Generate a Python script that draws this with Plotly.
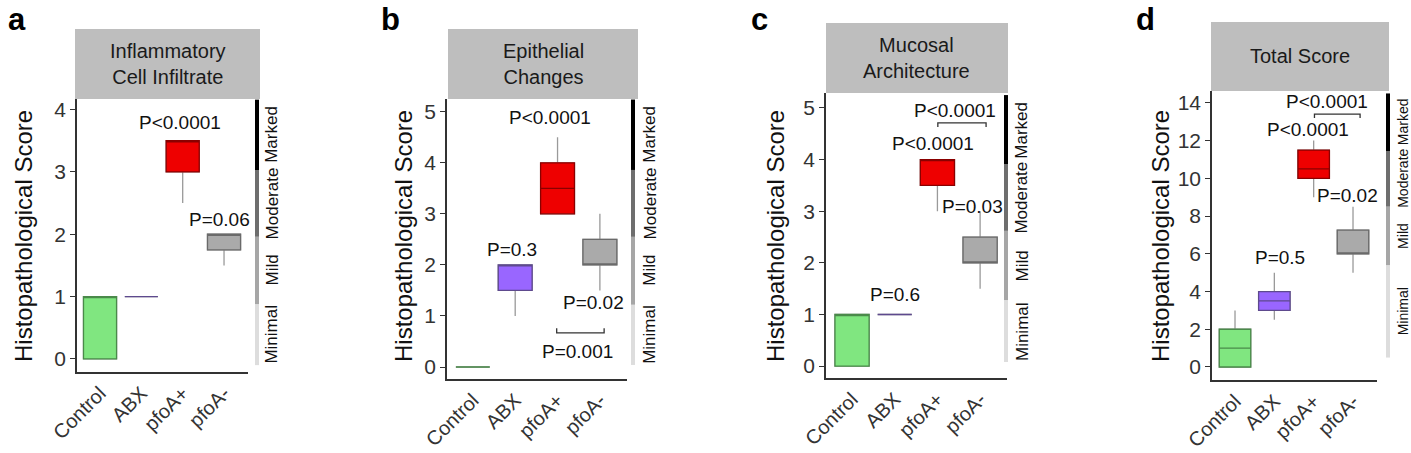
import plotly.graph_objects as go

W, H = 1411, 453

categories = ["Control", "ABX", "pfoA+", "pfoA-"]
panel_letters = ["a", "b", "c", "d"]
panel_titles = ["Inflammatory<br>Cell Infiltrate", "Epithelial<br>Changes",
                "Mucosal<br>Architecture", "Total Score"]
severity_levels = ["Minimal", "Mild", "Moderate", "Marked"]

# Box statistics per panel, order = categories
q1_a = [0, 1, 3.0, 1.75]
med_a = [1, 1, 3.5, 2.0]
q3_a = [1, 1, 3.5, 2.0]
lo_a = [0, 1, 2.5, 1.5]
hi_a = [1, 1, 3.5, 2.0]

q1_b = [0, 1.5, 3.0, 2.0]
med_b = [0, 2.0, 3.5, 2.0]
q3_b = [0, 2.0, 4.0, 2.5]
lo_b = [0, 1.0, 3.0, 1.5]
hi_b = [0, 2.0, 4.5, 3.0]

q1_c = [0, 1, 3.5, 2.0]
med_c = [1, 1, 4.0, 2.0]
q3_c = [1, 1, 4.0, 2.5]
lo_c = [0, 1, 3.0, 1.5]
hi_c = [1, 1, 4.0, 3.0]

q1_d = [0, 3.0, 10.0, 6.0]
med_d = [1, 3.5, 10.5, 6.0]
q3_d = [2, 4.0, 11.5, 7.25]
lo_d = [0, 2.5, 9.0, 5.0]
hi_d = [3, 5.0, 12.0, 8.5]

# severity scale boundaries (data units) per panel
sev_a = [-0.1, 0.88, 1.96, 3.03, 4.16]
sev_b = [0.04, 1.22, 2.55, 3.86, 5.24]
sev_c = [0.08, 1.28, 2.62, 3.91, 5.25]
sev_d = [0.5, 5.4, 8.5, 11.45, 14.5]

# P-value labels: text, x (category index), y
ptext_a = ["P<0.0001", "P=0.06"]
px_a = [1.94, 2.9]
py_a = [3.8, 2.23]

ptext_b = ["P<0.0001", "P=0.3", "P=0.02", "P=0.001"]
px_b = [1.82, 0.92, 2.84, 2.48]
py_b = [4.88, 2.3, 1.27, 0.3]

ptext_c = ["P=0.6", "P<0.0001", "P<0.0001", "P=0.03"]
px_c = [1.0, 1.9, 2.41, 2.81]
py_c = [1.38, 4.32, 4.96, 3.1]

ptext_d = ["P=0.5", "P<0.0001", "P<0.0001", "P=0.02"]
px_d = [1.15, 1.86, 2.34, 2.87]
py_d = [5.8, 12.57, 14.05, 9.1]

# comparison brackets: (x0, x1, y, tip_y)
brackets_a = []
brackets_b = [(1.98, 3.1, 0.67, 0.76)]
brackets_c = [(2.01, 3.14, 4.71, 4.63)]
brackets_d = [(2.02, 3.18, 13.4, 13.2)]

fill_colors = ["#80E680", "#9966FF", "#EE0000", "#AAAAAA"]
edge_colors = ["#4A8A4A", "#5E4A8E", "#8A0000", "#6A6A6A"]
whisker_color = "#9A9A9A"
sev_colors = ["#DDDDDD", "#A6A6A6", "#6E6E6E", "#000000"]

panels = [
    dict(q1=q1_a, med=med_a, q3=q3_a, lo=lo_a, hi=hi_a, sev=sev_a,
         pt=ptext_a, px=px_a, py=py_a, br=brackets_a),
    dict(q1=q1_b, med=med_b, q3=q3_b, lo=lo_b, hi=hi_b, sev=sev_b,
         pt=ptext_b, px=px_b, py=py_b, br=brackets_b),
    dict(q1=q1_c, med=med_c, q3=q3_c, lo=lo_c, hi=hi_c, sev=sev_c,
         pt=ptext_c, px=px_c, py=py_c, br=brackets_c),
    dict(q1=q1_d, med=med_d, q3=q3_d, lo=lo_d, hi=hi_d, sev=sev_d,
         pt=ptext_d, px=px_d, py=py_d, br=brackets_d),
]

# ---- layout geometry (pixels) ----
plot_px = [(77, 248, 99, 372), (447, 627, 99, 379), (826, 1007, 93, 378), (1212, 1377, 91, 380)]
strip_px = [(75, 260, 29, 99), (448, 638, 29, 99), (826, 1008, 23, 93), (1211, 1389, 22, 91)]
xranges = [[-0.557, 3.58], [-0.61, 3.64], [-0.61, 3.63], [-0.585, 3.61]]
yranges = [[-0.21, 4.17], [-0.235, 5.25], [-0.23, 5.29], [-0.69, 14.63]]
dticks = [1, 1, 1, 2]
sevbar_x = [257, 633, 1006, 1388]
sevlab_x = [272, 650, 1022, 1403]
sevlab_size = [17, 17, 17, 14]
ytitle_x = [23, 403, 775, 1160]
letter_x = [6, 379, 749, 1134]

FONT = "Liberation Sans, Arial, sans-serif"


def fx(p):
    return p / W


def fy(p):
    return 1 - p / H


fig = go.Figure()
shapes = []
annotations = []
layout_axes = {}

for i, pn in enumerate(panels):
    k = "" if i == 0 else str(i + 1)
    xa, ya = "x" + k, "y" + k
    x0, x1, y0, y1 = plot_px[i]
    layout_axes["xaxis" + k] = dict(
        domain=[fx(x0), fx(x1)], anchor=ya, range=xranges[i], automargin=False,
        tickmode="array", tickvals=[0, 1, 2, 3], ticktext=categories,
        tickangle=-45, ticks="", showline=True, linecolor="#333333", linewidth=1.6,
        showgrid=False, zeroline=False,
        tickfont=dict(family=FONT, size=20, color="#333333"),
    )
    layout_axes["yaxis" + k] = dict(
        domain=[fy(y1), fy(y0)], anchor=xa, range=yranges[i], automargin=False,
        dtick=dticks[i], tick0=0, ticks="outside", ticklen=5, tickwidth=1.3,
        tickcolor="#333333", showline=True, linecolor="#333333", linewidth=1.6,
        showgrid=False, zeroline=False,
        tickfont=dict(family=FONT, size=21, color="#333333"),
    )

    # boxes: whisker layer, then filled box layer
    for j in range(4):
        fig.add_trace(go.Box(
            x=[j], q1=[pn["q1"][j]], median=[pn["med"][j]], q3=[pn["q3"][j]],
            lowerfence=[pn["lo"][j]], upperfence=[pn["hi"][j]],
            width=0.8, whiskerwidth=0, boxpoints=False,
            fillcolor="rgba(0,0,0,0)", line=dict(color=whisker_color, width=1.3),
            xaxis=xa, yaxis=ya, showlegend=False, hoverinfo="skip",
        ))
        fig.add_trace(go.Box(
            x=[j], q1=[pn["q1"][j]], median=[pn["med"][j]], q3=[pn["q3"][j]],
            lowerfence=[pn["q1"][j]], upperfence=[pn["q3"][j]],
            width=0.8, whiskerwidth=0, boxpoints=False,
            fillcolor=fill_colors[j], line=dict(color=edge_colors[j], width=1.3),
            xaxis=xa, yaxis=ya, showlegend=False, hoverinfo="skip",
        ))

    # brackets
    for (bx0, bx1, by, bt) in pn["br"]:
        fig.add_trace(go.Scatter(
            x=[bx0, bx0, bx1, bx1], y=[bt, by, by, bt], mode="lines",
            line=dict(color="#333333", width=1.3), xaxis=xa, yaxis=ya,
            showlegend=False, hoverinfo="skip",
        ))

    # p-value labels
    for t, xx, yy in zip(pn["pt"], pn["px"], pn["py"]):
        annotations.append(dict(
            text=t, x=xx, y=yy, xref=xa, yref=ya, showarrow=False,
            xanchor="center", yanchor="middle",
            font=dict(family=FONT, size=19, color="#111111"),
        ))

    # severity bar
    sev = pn["sev"]
    for s in range(4):
        shapes.append(dict(
            type="line", xref="paper", yref=ya,
            x0=fx(sevbar_x[i]), x1=fx(sevbar_x[i]), y0=sev[s], y1=sev[s + 1],
            line=dict(color=sev_colors[s], width=4),
        ))
        annotations.append(dict(
            text=severity_levels[s], xref="paper", yref=ya,
            x=fx(sevlab_x[i]), y=(sev[s] + sev[s + 1]) / 2, textangle=-90,
            showarrow=False, xanchor="center", yanchor="middle",
            font=dict(family=FONT, size=sevlab_size[i], color="#111111"),
        ))

    # strip header
    sx0, sx1, sy0, sy1 = strip_px[i]
    shapes.append(dict(
        type="rect", xref="paper", yref="paper",
        x0=fx(sx0), x1=fx(sx1), y0=fy(sy1), y1=fy(sy0),
        fillcolor="#BEBEBE", line=dict(width=0), layer="below",
    ))
    annotations.append(dict(
        text=panel_titles[i], xref="paper", yref="paper",
        x=fx((sx0 + sx1) / 2), y=fy((sy0 + sy1) / 2), showarrow=False,
        xanchor="center", yanchor="middle",
        font=dict(family=FONT, size=20, color="#1A1A1A"),
    ))

    # y-axis title
    annotations.append(dict(
        text="Histopathological Score", xref="paper", yref="paper",
        x=fx(ytitle_x[i]), y=fy(236), textangle=-90, showarrow=False,
        xanchor="center", yanchor="middle",
        font=dict(family=FONT, size=24, color="#111111"),
    ))

    # panel letter
    annotations.append(dict(
        text="<b>" + panel_letters[i] + "</b>", xref="paper", yref="paper",
        x=fx(letter_x[i]), y=1.0, showarrow=False, xanchor="left", yanchor="top",
        font=dict(family=FONT, size=31, color="#000000"),
    ))

fig.update_layout(
    width=W, height=H, autosize=False,
    margin=dict(l=0, r=0, t=0, b=0, autoexpand=False),
    paper_bgcolor="white", plot_bgcolor="white",
    boxmode="overlay", showlegend=False,
    shapes=shapes, annotations=annotations,
    **layout_axes,
)

fig.write_html(
    "out.html",
    config={"displayModeBar": False},
    post_script="document.body.style.margin='0';document.body.style.overflow='hidden';",
)
